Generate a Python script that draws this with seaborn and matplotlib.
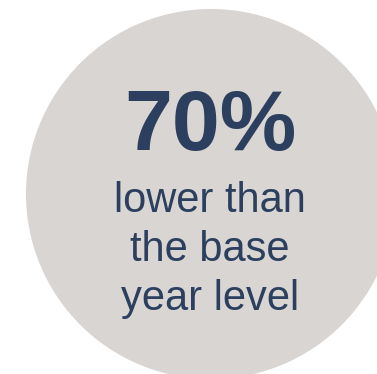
import matplotlib
matplotlib.use("Agg")
import matplotlib.pyplot as plt
import seaborn as sns
from matplotlib.patches import Circle

# data shown in the badge
value_pct = 70
caption_lines = ["lower than", "the base", "year level"]

sns.set_style("white")
plt.rcParams['font.family'] = ['Liberation Sans', 'DejaVu Sans']

fig = plt.figure(figsize=(3.77, 3.74), dpi=100)
ax = fig.add_axes([0, 0, 1, 1])
ax.set_xlim(0, 377)
ax.set_ylim(374, 0)
ax.axis('off')

ax.add_patch(Circle((211, 194), 185, color='#d9d5d3', lw=0))

navy = '#2c3f5e'
ax.text(210, 150, f"{value_pct}%", ha='center', va='baseline',
        fontsize=62, fontweight='bold', color=navy)
for i, line in enumerate(caption_lines):
    ax.text(210, 212 + 49 * i, line, ha='center', va='baseline',
            fontsize=30, color=navy)

fig.savefig('out.png', dpi=100)
